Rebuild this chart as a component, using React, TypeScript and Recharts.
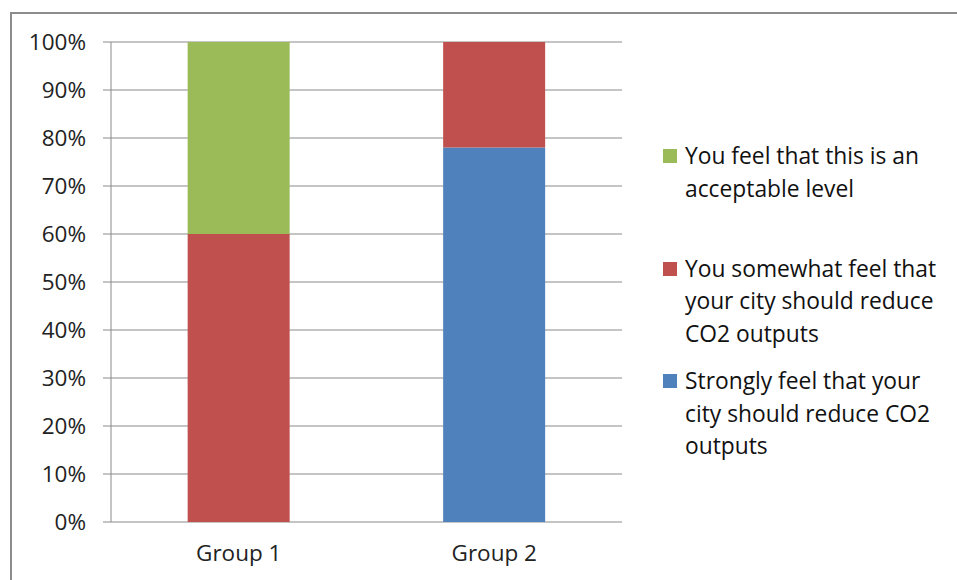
import { Bar, BarChart, CartesianGrid, XAxis, YAxis } from 'recharts';

const groups = ['Group 1', 'Group 2'];
const strongly = [0, 78];
const somewhat = [60, 22];
const acceptable = [40, 0];
const percentTicks = [0, 10, 20, 30, 40, 50, 60, 70, 80, 90, 100];

// bottom-to-top stacking order
const series = [
  { key: 'strongly', name: 'Strongly feel that your city should reduce CO2 outputs', color: '#4F81BD' },
  { key: 'somewhat', name: 'You somewhat feel that your city should reduce CO2 outputs', color: '#C0504D' },
  { key: 'acceptable', name: 'You feel that this is an acceptable level', color: '#9BBB59' }
];

const data = groups.map((group, i) => ({
  group,
  strongly: strongly[i],
  somewhat: somewhat[i],
  acceptable: acceptable[i]
}));

const FONT = '"Open Sans", Lato, sans-serif';
const GRID = '#8a8a8a';
const TICK_FONT = 22.5;

// legend lists the top of the stack first, each entry in an equal-height slot
function SideLegend() {
  return (
    <div
      style={{
        position: 'absolute',
        left: 663,
        top: 140,
        fontFamily: FONT,
        fontSize: 22.8,
        lineHeight: '32.5px',
        color: '#111'
      }}
    >
      {[...series].reverse().map((s) => (
        <div key={s.key} style={{ display: 'flex', height: 112.5 }}>
          <span
            style={{
              width: 14,
              height: 14,
              marginTop: 9,
              marginRight: 8,
              background: s.color,
              flex: 'none'
            }}
          />
          <span style={{ width: 264 }}>{s.name}</span>
        </div>
      ))}
    </div>
  );
}

export default function App() {
  return (
    <div
      style={{
        position: 'absolute',
        left: 0,
        top: 0,
        width: 957,
        height: 580,
        overflow: 'hidden',
        background: '#fff'
      }}
    >
      <div
        style={{
          position: 'absolute',
          left: 10,
          top: 12,
          width: 1000,
          height: 620,
          border: '2px solid #8c8c8c',
          boxSizing: 'border-box'
        }}
      />
      <div style={{ position: 'absolute', left: 0, top: 0 }}>
        <BarChart
          width={957}
          height={580}
          data={data}
          margin={{ top: 42, right: 335, bottom: 0, left: 11 }}
          barCategoryGap="30%"
        >
          <CartesianGrid vertical={false} stroke={GRID} strokeWidth={1} />
          <XAxis
            dataKey="group"
            height={58}
            axisLine={false}
            tickLine={false}
            tickSize={8}
            tickMargin={15}
            tick={{ fill: '#222', fontSize: TICK_FONT, fontFamily: FONT }}
          />
          {/* second axis only carries the tick marks at the category edges */}
          <XAxis
            xAxisId="edges"
            type="number"
            domain={[0, 2]}
            ticks={[0, 1, 2]}
            height={0}
            axisLine={{ stroke: GRID }}
            tickLine={{ stroke: GRID }}
            tickSize={8}
            tickFormatter={() => ''}
          />
          <YAxis
            width={100}
            domain={[0, 100]}
            ticks={percentTicks}
            tickFormatter={(v: number) => `${v}%`}
            axisLine={{ stroke: GRID }}
            tickLine={{ stroke: GRID }}
            tickSize={8}
            tickMargin={17}
            tick={{ fill: '#222', fontSize: TICK_FONT, fontFamily: FONT }}
          />
          {series.map((s) => (
            <Bar
              key={s.key}
              dataKey={s.key}
              name={s.name}
              stackId="a"
              fill={s.color}
              isAnimationActive={false}
            />
          ))}
        </BarChart>
      </div>
      <SideLegend />
    </div>
  );
}
